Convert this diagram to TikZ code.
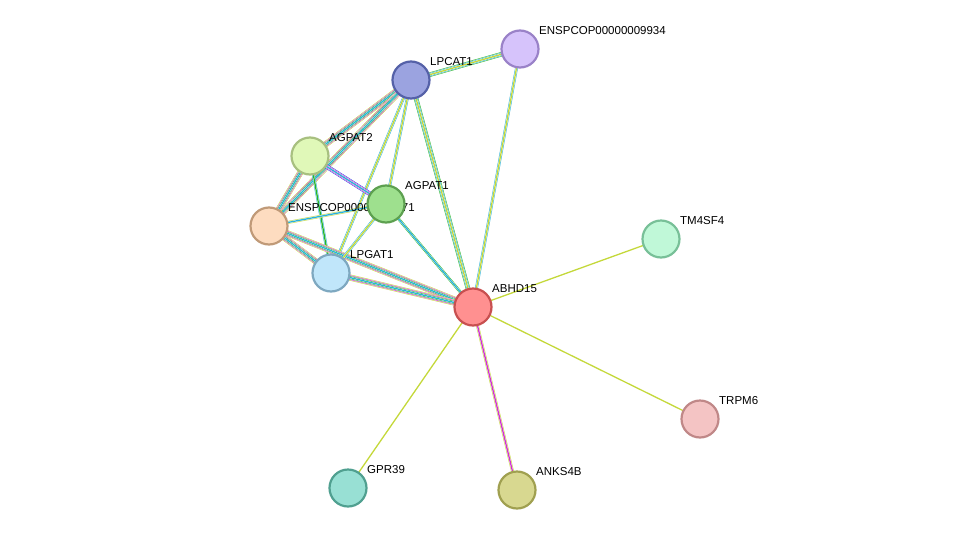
\documentclass[tikz,border=0pt]{standalone}
\usepackage{fontspec}
\setmainfont{Liberation Sans}
\begin{document}
\begin{tikzpicture}[x=1pt,y=-1pt,
  prot/.style={circle,minimum size=37pt,inner sep=0pt,line width=2.2pt},
  lab/.style={font=\fontsize{11.5}{13}\selectfont,anchor=south west,inner sep=1pt}]
\useasboundingbox (0,0) rectangle (975,536);
\definecolor{cy}{HTML}{2AB0D8}\definecolor{yl}{HTML}{C4D83A}\definecolor{gr}{HTML}{28B428}
\definecolor{mg}{HTML}{D030D0}\definecolor{bl}{HTML}{3040E0}
\coordinate (L) at (411,80); \coordinate (E9) at (520,49); \coordinate (A2) at (310,156);
\coordinate (A1) at (386,204); \coordinate (E7) at (269,226); \coordinate (LG) at (331,273);
\coordinate (AB) at (473,307); \coordinate (TM) at (661,239); \coordinate (TR) at (700,419);
\coordinate (GP) at (348,488); \coordinate (AN) at (517,490);
\newcommand{\edg}[3]{\foreach \c [count=\i] in {#3}{\xdef\nn{\i}}%
  \foreach \c [count=\i] in {#3}{\pgfmathsetmacro\w{1.6*(\nn-\i)+1.3}\draw[\c,line width=\w pt] (#1)--(#2);
   \ifnum\i<\nn\relax \pgfmathsetmacro\ww{1.6*(\nn-\i)+0.3}\draw[white,line width=\ww pt] (#1)--(#2);\fi}}
\edg{L}{E9}{gr,cy,yl}
\edg{E9}{AB}{cy,yl}
\edg{L}{AB}{gr,cy,yl}
\edg{L}{A2}{yl,mg,gr,cy}
\edg{L}{E7}{yl,mg,gr,cy}
\edg{L}{A1}{cy,yl}
\edg{L}{LG}{cy,yl}
\edg{A2}{A1}{bl,mg,cy}
\edg{A2}{E7}{yl,mg,gr,cy}
\edg{A2}{LG}{cy,gr}
\edg{E7}{A1}{yl,cy}
\edg{E7}{LG}{yl,mg,gr,cy}
\edg{E7}{AB}{yl,mg,gr,cy}
\edg{A1}{LG}{cy,yl}
\edg{A1}{AB}{gr,cy}
\edg{LG}{AB}{yl,mg,gr,cy}
\edg{AB}{AN}{yl,mg}
\draw[yl,line width=1.3pt] (AB)--(TM) (AB)--(TR) (AB)--(GP);
\newcommand{\lbl}[2]{\node[lab] (t#1) at ([xshift=18pt,yshift=13pt]#1) {#2};}
\lbl{L}{LPCAT1}\lbl{E9}{ENSPCOP00000009934}\lbl{A2}{AGPAT2}\lbl{E7}{ENSPCOP00000009971}
\lbl{A1}{AGPAT1}\lbl{LG}{LPGAT1}\lbl{AB}{ABHD15}\lbl{TM}{TM4SF4}\lbl{TR}{TRPM6}
\lbl{GP}{GPR39}\lbl{AN}{ANKS4B}
\newcommand{\prt}[3]{\definecolor{f#1}{HTML}{#2}\definecolor{d#1}{HTML}{#3}%
  \node[prot,fill=f#1,draw=d#1] (n#1) at (#1) {};}
\prt{L}{9BA3E0}{5561A8}
\prt{E9}{D6C3FB}{9A82C8}
\prt{A2}{E0F8B8}{A8C080}
\prt{E7}{FDDCC0}{C09A78}
\prt{A1}{9EE08E}{5DA050}
\prt{LG}{C0E6FA}{7EA8C0}
\prt{AB}{FF9090}{C85050}
\prt{TM}{C0F8D8}{78C098}
\prt{TR}{F4C4C4}{C08888}
\prt{GP}{98E0D4}{50A090}
\prt{AN}{D8D890}{A0A050}
\end{tikzpicture}
\end{document}
